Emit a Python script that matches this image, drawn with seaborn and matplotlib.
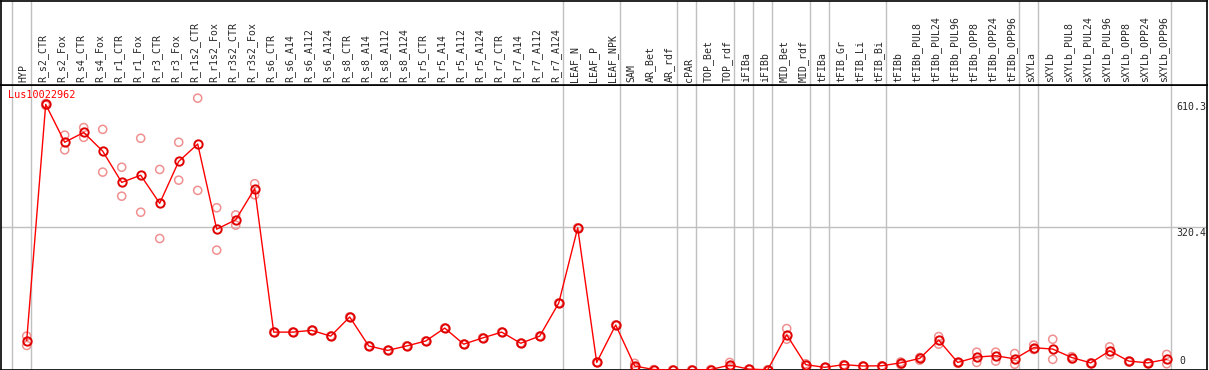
import numpy as np
import pandas as pd
import matplotlib
matplotlib.use("Agg")
import matplotlib.pyplot as plt
import seaborn as sns

# ──────────────────────────────────────────────
# Data
# ──────────────────────────────────────────────

gene = "Lus10022962"

conditions = [
    "HYP", "R_s2_CTR", "R_s2_Fox", "R_s4_CTR", "R_s4_Fox", "R_r1_CTR", "R_r1_Fox",
    "R_r3_CTR", "R_r3_Fox", "R_r1s2_CTR", "R_r1s2_Fox", "R_r3s2_CTR", "R_r3s2_Fox",
    "R_s6_CTR", "R_s6_A14", "R_s6_A112", "R_s6_A124", "R_s8_CTR", "R_s8_A14",
    "R_s8_A112", "R_s8_A124", "R_r5_CTR", "R_r5_A14", "R_r5_A112", "R_r5_A124",
    "R_r7_CTR", "R_r7_A14", "R_r7_A112", "R_r7_A124", "LEAF_N", "LEAF_P", "LEAF_NPK",
    "SAM", "AR_Bet", "AR_rdf", "cPAR", "TOP_Bet", "TOP_rdf", "iFIBa", "iFIBb",
    "MID_Bet", "MID_rdf", "tFIBa", "tFIB_Gr", "tFIB_Li", "tFIB_Bi", "tFIBb",
    "tFIBb_PUL8", "tFIBb_PUL24", "tFIBb_PUL96", "tFIBb_OPP8", "tFIBb_OPP24",
    "tFIBb_OPP96", "sXYLa", "sXYLb", "sXYLb_PUL8", "sXYLb_PUL24", "sXYLb_PUL96",
    "sXYLb_OPP8", "sXYLb_OPP24", "sXYLb_OPP96",
]

mean_expr = [
    66, 596, 511, 533, 491, 421, 437, 374, 468, 507, 316, 337, 407,
    85, 85, 89, 76, 119, 54, 44, 54, 65, 94, 58, 72, 85, 60, 76, 150,
    319, 17, 101, 9, 1, 0, 0, 1, 11, 2, 0.5, 79, 12, 6, 12, 9, 9.5, 16,
    26, 67, 17, 29, 32, 25, 50, 47, 28, 16, 43, 20, 16, 24,
]

rep_hi = [
    76, 598, 527, 544, 540, 455, 520, 450, 511, 610, 364, 348, 418,
    85, 85, 89, 76, 119, 54, 44, 54, 65, 94, 58, 72, 85, 60, 76, 150,
    319, 17, 101, 15, 1, 0, 0, 1, 17, 2, 0.5, 93, 14, 6, 12, 9, 9.5, 18,
    28, 75, 17, 40, 40, 37, 56, 69, 30, 16, 52, 20, 16, 35,
]

rep_lo = [
    55, 594, 494, 522, 444, 390, 354, 295, 426, 403, 269, 325, 393,
    85, 85, 89, 76, 119, 54, 44, 54, 65, 94, 58, 72, 85, 60, 76, 150,
    319, 17, 101, 5, 0, 0, 0, 0, 7, 1, 0, 69, 10, 5, 10, 8, 8, 12,
    22, 58, 15, 17, 20, 13, 46, 24, 25, 14, 34, 18, 14, 14,
]

# group separators sit just after these condition indices
group_ends = [-1, 0, 28, 31, 34, 35, 37, 38, 39, 41, 42, 45, 52, 53, 60]

y_max = 610.3
y_mid = 320.4

# ──────────────────────────────────────────────
# Plot
# ──────────────────────────────────────────────

sns.set_style("white")
plt.rcParams["font.family"] = ["DejaVu Sans Mono"]

W, H = 1209, 370
fig = plt.figure(figsize=(W / 100, H / 100), dpi=100)

header_px = 85
ax = fig.add_axes([1 / W, 0, 1206 / W, (H - header_px) / H])
hdr = fig.add_axes([1 / W, (H - header_px) / H, 1206 / W, header_px / H - 0.5 / H])

x_idx = np.arange(len(conditions))
df_mean = pd.DataFrame({"x": x_idx, "expr": mean_expr})
df_rep = pd.DataFrame({
    "x": np.concatenate([x_idx, x_idx]),
    "expr": rep_hi + rep_lo,
})

xlim = ((1 - 26.7) / 19, (1207 - 26.7) / 19)
ylim_top = y_max * (H - header_px) / 272

for a in (ax, hdr):
    a.set_xlim(*xlim)
    for g in group_ends:
        a.axvline(g + 0.21, color="#c0c0c0", lw=1, zorder=0)
    for s in a.spines.values():
        s.set_color("black")
        s.set_linewidth(1.2)
    a.set_xticks([])
    a.set_yticks([])

ax.set_ylim(0, ylim_top)
ax.axhline(y_mid, color="#c0c0c0", lw=1, zorder=0)

sns.scatterplot(data=df_rep, x="x", y="expr", ax=ax, marker="o", s=34,
                facecolors="none", edgecolor="#f09090", linewidth=1.1,
                zorder=2, legend=False)
sns.lineplot(data=df_mean, x="x", y="expr", ax=ax, color="red", lw=1,
             marker="o", markersize=6, markerfacecolor="none",
             markeredgecolor="#e00000", markeredgewidth=1.4, zorder=3)
ax.set_xlabel("")
ax.set_ylabel("")

ax.text(-1.0, y_max - 5, gene, color="red", fontsize=7.3, va="bottom", ha="left")

lab_x = (1176 - 26.7) / 19
ax.annotate(f"{y_max}", (lab_x, y_max), xytext=(0, -3), textcoords="offset points",
            va="top", ha="left", fontsize=7.1)
ax.annotate(f"{y_mid}", (lab_x, y_mid), xytext=(0, -0.5), textcoords="offset points",
            va="top", ha="left", fontsize=7.1)
ax.annotate("0", (lab_x + 0.2, 0), xytext=(0, 3), textcoords="offset points",
            va="bottom", ha="left", fontsize=7.1)

hdr.set_ylim(0, 1)
for i, name in enumerate(conditions):
    hdr.text(i - 0.15, 0.03, name, rotation=90, ha="center", va="bottom",
             fontsize=7.1)

fig.savefig("out.png", dpi=100)
